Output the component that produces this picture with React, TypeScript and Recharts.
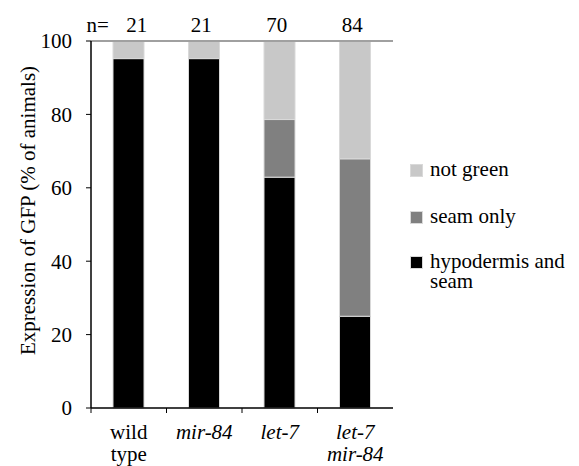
import React from 'react';
import { BarChart, Bar, XAxis, YAxis, Legend, Label } from 'recharts';

const categories = ['wild type', 'mir-84', 'let-7', 'let-7 mir-84'];
const italicLabel = [false, true, true, true];
const nCounts = [21, 21, 70, 84];
const hypodermisAndSeam = [95.2, 95.2, 62.9, 25.0];
const seamOnly = [0, 0, 15.7, 42.9];
const notGreen = [4.8, 4.8, 21.4, 32.1];
const yTicks = [0, 20, 40, 60, 80, 100];

const series = [
  { key: 'hyp', name: 'hypodermis and seam', color: '#000000' },
  { key: 'seam', name: 'seam only', color: '#808080' },
  { key: 'notGreen', name: 'not green', color: '#c8c8c8' },
];

const data = categories.map((name, i) => ({
  name,
  hyp: hypodermisAndSeam[i],
  seam: seamOnly[i],
  notGreen: notGreen[i],
  n: nCounts[i],
}));

const FONT = 'Liberation Serif, DejaVu Serif, serif';
const FS = 21;

const BottomTick = (props: any) => {
  const { x, y, payload, index } = props;
  const half = payload.offset ?? props.width / categories.length / 2;
  const lines = String(payload.value).split(' ');
  return (
    <g>
      <line x1={x - half} x2={x - half} y1={y} y2={y + 5} stroke="#000" strokeWidth={1} />
      <text
        x={x}
        y={y + 31}
        textAnchor="middle"
        fontFamily={FONT}
        fontSize={FS}
        fontStyle={italicLabel[index] ? 'italic' : 'normal'}
        fill="#000"
      >
        {lines.map((l, i) => (
          <tspan key={i} x={x} dy={i === 0 ? 0 : 22}>
            {l}
          </tspan>
        ))}
      </text>
    </g>
  );
};

// the n= row sits a little off the bar centres in the original
const TopTick = (props: any) => {
  const { x, y, index } = props;
  const cx = index === 0 ? x + 8 : x - 3;
  return (
    <g>
      {index === 0 && (
        <text x={x - 20} y={y - 9} textAnchor="end" fontFamily={FONT} fontSize={FS} fill="#000">
          n=
        </text>
      )}
      <text x={cx} y={y - 9} textAnchor="middle" fontFamily={FONT} fontSize={FS} fill="#000">
        {nCounts[index]}
      </text>
    </g>
  );
};

const YLabel = (props: any) => {
  const { viewBox } = props;
  const cx = viewBox.x + 28;
  const cy = viewBox.y + viewBox.height / 2 - 14;
  return (
    <text
      x={cx}
      y={cy}
      transform={`rotate(-90, ${cx}, ${cy})`}
      textAnchor="middle"
      dominantBaseline="central"
      fontFamily={FONT}
      fontSize={FS}
      fill="#000"
    >
      Expression of GFP (% of animals)
    </text>
  );
};

const legendGaps = [0, 27, 25];

const LegendContent = () => (
  <div style={{ fontFamily: FONT, fontSize: FS, lineHeight: '20px', color: '#000' }}>
    {[...series].reverse().map((s, i) => (
      <div key={s.key} style={{ display: 'flex', alignItems: 'flex-start', marginTop: legendGaps[i] }}>
        <div
          style={{
            width: 11,
            height: 11,
            background: s.color,
            border: '1px solid #d9d9d9',
            marginTop: 5,
            marginRight: 7,
            flexShrink: 0,
          }}
        />
        <div style={{ width: 140 }}>{s.name}</div>
      </div>
    ))}
  </div>
);

export default function App() {
  return (
    <div style={{ position: 'absolute', left: 0, top: 0, width: 579, height: 466, background: '#fff' }}>
      <BarChart
        width={579}
        height={466}
        data={data}
        margin={{ top: 0, right: 186, bottom: 0, left: 0 }}
        barSize={31}
      >
        <XAxis
          xAxisId="top"
          orientation="top"
          dataKey="name"
          height={41}
          axisLine={{ stroke: '#a0a0a0', strokeWidth: 2 }}
          tickLine={false}
          tickSize={0}
          tickMargin={0}
          tick={<TopTick />}
          interval={0}
        />
        <XAxis
          xAxisId="cat"
          dataKey="name"
          height={58}
          axisLine={{ stroke: '#000', strokeWidth: 1.5 }}
          tickLine={false}
          tickSize={0}
          tickMargin={0}
          tick={<BottomTick />}
          interval={0}
        />
        <YAxis
          yAxisId="left"
          width={91}
          domain={[0, 100]}
          ticks={yTicks}
          interval={0}
          axisLine={{ stroke: '#000', strokeWidth: 1.5 }}
          tickLine={{ stroke: '#000' }}
          tickSize={5}
          tickMargin={14}
          tick={{ fontFamily: FONT, fontSize: FS, fill: '#000' }}
        >
          <Label content={<YLabel />} />
        </YAxis>
        <YAxis
          yAxisId="right"
          orientation="right"
          width={0}
          domain={[0, 100]}
          axisLine={{ stroke: '#a0a0a0', strokeWidth: 2 }}
          tick={false}
          tickLine={false}
        />
        <Legend
          layout="vertical"
          align="center"
          verticalAlign="middle"
          wrapperStyle={{ left: 410, top: 159, width: 169 }}
          content={<LegendContent />}
        />
        {series.map((s) => (
          <Bar
            key={s.key}
            dataKey={s.key}
            name={s.name}
            stackId="a"
            xAxisId="cat"
            yAxisId="left"
            fill={s.color}
            stroke="#d9d9d9"
            strokeWidth={1}
            isAnimationActive={false}
          />
        ))}
      </BarChart>
    </div>
  );
}
